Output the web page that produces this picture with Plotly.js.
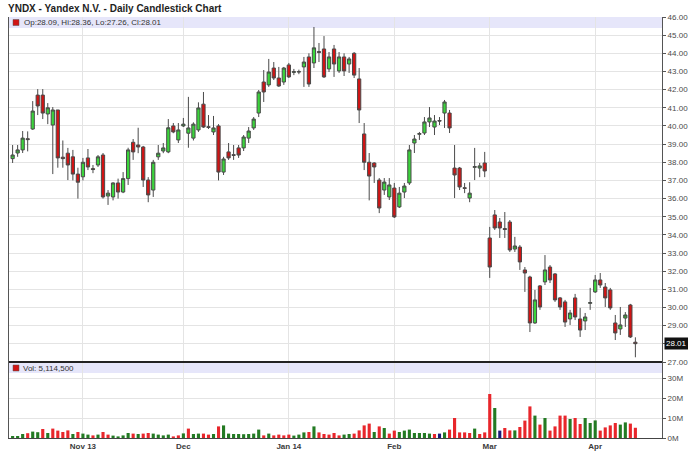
<!DOCTYPE html>
<html>
<head>
<meta charset="utf-8">
<script src="https://cdn.plot.ly/plotly-3.0.1.min.js"></script>
<style>
html,body{margin:0;padding:0;background:#fff;}
#chart{width:688px;height:455px;}
</style>
</head>
<body>
<div id="chart"></div>
<script>
// Trading days (Oct 14 2013 - Apr 11 2014)
const dates = [
'2013-10-14','2013-10-15','2013-10-16','2013-10-17','2013-10-18','2013-10-21','2013-10-22','2013-10-23','2013-10-24','2013-10-25','2013-10-28','2013-10-29','2013-10-30','2013-10-31',
'2013-11-01','2013-11-04','2013-11-05','2013-11-06','2013-11-07','2013-11-08','2013-11-11','2013-11-12','2013-11-13','2013-11-14','2013-11-15','2013-11-18','2013-11-19','2013-11-20','2013-11-21','2013-11-22','2013-11-25','2013-11-26','2013-11-27','2013-11-29',
'2013-12-02','2013-12-03','2013-12-04','2013-12-05','2013-12-06','2013-12-09','2013-12-10','2013-12-11','2013-12-12','2013-12-13','2013-12-16','2013-12-17','2013-12-18','2013-12-19','2013-12-20','2013-12-23','2013-12-24','2013-12-26','2013-12-27','2013-12-30','2013-12-31',
'2014-01-02','2014-01-03','2014-01-06','2014-01-07','2014-01-08','2014-01-09','2014-01-10','2014-01-13','2014-01-14','2014-01-15','2014-01-16','2014-01-17','2014-01-21','2014-01-22','2014-01-23','2014-01-24','2014-01-27','2014-01-28','2014-01-29','2014-01-30','2014-01-31',
'2014-02-03','2014-02-04','2014-02-05','2014-02-06','2014-02-07','2014-02-10','2014-02-11','2014-02-12','2014-02-13','2014-02-14','2014-02-18','2014-02-19','2014-02-20','2014-02-21','2014-02-24','2014-02-25','2014-02-26','2014-02-27','2014-02-28',
'2014-03-03','2014-03-04','2014-03-05','2014-03-06','2014-03-07','2014-03-10','2014-03-11','2014-03-12','2014-03-13','2014-03-14','2014-03-17','2014-03-18','2014-03-19','2014-03-20','2014-03-21','2014-03-24','2014-03-25','2014-03-26','2014-03-27','2014-03-28','2014-03-31',
'2014-04-01','2014-04-02','2014-04-03','2014-04-04','2014-04-07','2014-04-08','2014-04-09','2014-04-10','2014-04-11'
];

const open = [
38.2, 38.51, 38.68, 39.3, 39.83, 41.7, 41.7, 40.66, 40.05, 40.88,
38.28, 38.5, 38.3, 37.35, 37.2, 38.24, 37.65, 37.85, 38.4, 36.14,
36.09, 36.86, 36.36, 37.1, 39.1, 38.95, 38.84, 37.02, 36.47, 38.3,
38.62, 38.57, 40.0, 39.23, 40.0, 39.6, 39.33, 39.78, 41.2, 39.96,
39.67, 40.0, 37.46, 38.57, 38.42, 38.79, 38.79, 39.33, 39.89, 40.71,
42.42, 42.26, 43.19, 42.64, 42.42, 43.36, 42.95, 42.97, 43.25, 43.8,
43.47, 44.1, 44.24, 43.14, 44.24, 43.03, 43.8, 43.41, 44.0, 42.59,
39.56, 38.0, 37.96, 37.02, 36.47, 36.09, 36.58, 35.54, 36.36, 36.86,
39.06, 39.54, 39.61, 40.22, 39.94, 40.3, 40.71, 40.71, 37.68, 37.68,
36.6, 36.03, 37.72, 37.68, 37.96, 33.83, 35.1, 34.71, 34.35, 34.71,
33.22, 33.33, 32.07, 31.68, 29.15, 31.19, 31.41, 32.23, 31.85, 30.53,
30.31, 29.37, 30.53, 29.37, 29.26, 30.23, 30.86, 31.52, 31.13, 30.97,
29.15, 28.82, 29.42, 30.14, 28.09
];
const high = [
38.95, 38.95, 39.72, 39.7, 41.37, 42.03, 42.03, 41.26, 41.04, 40.88,
39.2, 38.79, 38.68, 37.7, 38.24, 38.73, 37.85, 38.4, 38.51, 36.47,
36.9, 37.1, 37.46, 38.8, 39.28, 39.9, 38.9, 37.18, 38.13, 38.95,
39.06, 40.38, 40.16, 40.16, 40.44, 41.6, 40.2, 41.3, 41.87, 40.6,
40.55, 40.1, 38.3, 39.06, 38.95, 38.95, 39.5, 39.94, 40.49, 41.98,
43.08, 43.69, 43.52, 43.25, 43.25, 43.47, 43.14, 43.1, 43.8, 44.0,
45.45, 44.57, 44.95, 44.07, 44.46, 44.07, 44.0, 43.8, 44.07, 43.19,
40.16, 38.51, 38.0, 37.13, 37.13, 37.13, 36.86, 36.64, 36.86, 38.95,
39.5, 39.67, 40.49, 41.04, 40.6, 40.49, 41.43, 40.88, 38.95, 37.74,
36.86, 36.9, 38.79, 37.96, 38.57, 34.44, 35.37, 34.93, 35.26, 34.82,
33.89, 33.44, 32.23, 31.75, 30.97, 31.24, 32.89, 32.34, 31.9, 30.58,
30.42, 29.87, 30.75, 29.98, 29.7, 31.08, 31.79, 31.9, 31.35, 31.08,
29.59, 30.03, 29.75, 30.2, 28.36
];
const low = [
37.96, 38.3, 38.51, 38.6, 39.78, 40.6, 40.38, 40.1, 37.35, 37.7,
37.7, 37.02, 37.0, 36.0, 37.0, 37.57, 37.4, 37.74, 36.0, 35.65,
35.9, 36.0, 36.3, 36.75, 38.13, 38.5, 36.64, 35.8, 36.09, 38.13,
38.5, 38.5, 39.6, 39.06, 39.94, 38.8, 39.2, 39.67, 39.89, 39.83,
39.5, 37.0, 37.3, 38.13, 38.13, 38.24, 38.62, 39.06, 39.78, 40.49,
41.32, 42.15, 42.53, 42.15, 42.26, 42.64, 42.8, 42.85, 42.15, 42.15,
43.19, 43.52, 42.64, 42.97, 42.7, 42.92, 42.75, 42.92, 42.64, 40.16,
37.57, 35.9, 36.86, 35.2, 36.2, 35.92, 34.93, 35.48, 36.03, 36.75,
38.51, 39.23, 39.5, 39.94, 39.5, 40.05, 39.89, 39.61, 36.03, 36.47,
36.3, 35.8, 37.02, 37.18, 37.18, 31.63, 34.27, 33.83, 33.83, 33.06,
33.06, 32.07, 30.86, 28.65, 29.1, 29.87, 31.24, 31.35, 30.31, 29.87,
28.93, 29.04, 29.31, 28.38, 28.76, 29.87, 30.8, 31.08, 30.03, 29.87,
28.21, 28.49, 28.93, 28.32, 27.26
];
const close = [
38.4, 38.68, 39.33, 39.25, 40.82, 41.1, 40.71, 41.0, 40.88, 38.24,
38.2, 37.85, 37.35, 36.9, 38.0, 37.74, 37.6, 38.3, 36.09, 36.3,
36.86, 36.36, 37.1, 38.68, 38.57, 38.84, 37.02, 36.2, 38.0, 38.5,
38.79, 39.9, 39.67, 39.78, 40.1, 39.89, 40.1, 40.99, 39.94, 39.92,
39.89, 37.46, 38.18, 38.24, 38.38, 38.4, 39.39, 39.72, 40.38, 41.87,
41.87, 42.97, 42.64, 42.2, 43.19, 42.7, 42.99, 42.99, 43.52, 42.31,
44.3, 44.05, 42.7, 43.8, 43.41, 43.8, 43.03, 43.69, 42.8, 40.88,
38.0, 37.24, 37.74, 35.48, 36.91, 36.75, 34.99, 36.3, 36.69, 38.68,
39.28, 39.58, 40.22, 40.44, 40.27, 40.27, 41.32, 39.89, 37.3, 36.64,
36.56, 36.3, 37.76, 37.8, 37.52, 32.23, 34.38, 34.38, 34.3, 33.17,
33.39, 32.51, 31.9, 29.15, 30.42, 30.03, 32.07, 31.52, 30.42, 30.03,
29.2, 29.7, 29.48, 28.76, 29.48, 30.27, 31.52, 31.24, 30.53, 29.98,
28.6, 29.04, 29.59, 28.38, 28.01
];
// Volume in millions of shares
const volume = [
1.0, 1.0, 2.0, 2.4, 3.2, 2.9, 4.5, 2.5, 4.7, 3.7,
3.0, 3.8, 2.0, 3.0, 2.2, 1.7, 1.3, 1.7, 3.0, 1.7,
1.2, 0.8, 1.3, 2.5, 2.2, 2.0, 2.2, 2.5, 2.2, 1.7,
1.3, 1.7, 0.8, 1.3, 2.3, 4.7, 2.0, 2.2, 2.2, 1.7,
2.0, 5.8, 6.3, 2.2, 2.0, 2.0, 1.9, 2.0, 2.2, 4.2,
1.3, 2.2, 1.3, 1.7, 1.3, 1.7, 1.2, 1.7, 2.8, 3.0,
5.8, 2.8, 2.0, 1.7, 2.5, 1.3, 1.7, 2.0, 2.2, 3.8,
6.3, 7.2, 3.0, 5.8, 5.0, 2.2, 3.7, 3.0, 3.7, 4.2,
2.5, 2.5, 2.5, 2.2, 2.0, 2.2, 2.8, 4.2, 10.0, 2.8,
2.8, 2.5, 4.7, 2.0, 2.8, 22.0, 15.0, 3.7, 5.0, 3.8,
3.8, 5.5, 8.7, 15.8, 11.2, 6.7, 10.0, 3.7, 5.8, 11.2,
11.2, 9.5, 10.0, 7.0, 10.0, 7.5, 8.8, 3.7, 5.3, 6.3,
7.5, 6.7, 7.8, 7.2, 5.1145
];
// Volume bar direction vs previous close: u = up, d = down, n = unchanged
const volDir = [
'u','u','u','d','u','u','d','u','d','d',
'd','d','u','d','u','u','d','u','d','d',
'u','u','u','u','d','u','d','d','u','u',
'u','u','d','d','u','d','u','u','d','d',
'u','d','u','u','u','u','u','u','u','u',
'd','u','d','d','d','d','u','u','u','d',
'u','d','d','d','d','d','u','u','d','d',
'd','d','u','d','u','d','d','u','u','u',
'u','u','u','u','d','n','u','d','d','d',
'd','d','u','d','d','d','u','n','d','d',
'u','d','d','d','u','d','u','d','d','d',
'd','u','d','d','u','u','u','d','d','d',
'd','u','u','d','d'
];
const monthTickDates = ['2013-11-01','2013-12-02','2014-01-02','2014-02-03','2014-03-03','2014-04-01'];
const monthTickText = ['Nov 13','Dec','Jan 14','Feb','Mar','Apr'];
const priceTicks = [27,28,29,30,31,32,33,34,35,36,37,38,39,40,41,42,43,44,45,46];
const priceTickText = ['27.00','','29.00','30.00','31.00','32.00','33.00','34.00','35.00','36.00','37.00','38.00','39.00','40.00','41.00','42.00','43.00','44.00','45.00','46.00'];
const volTicks = [0,10,20,30];
const volTickText = ['0M','10M','20M','30M'];
const titleText = 'YNDX - Yandex N.V. - Daily Candlestick Chart';
const legendText = 'Op:28.09, Hi:28.36, Lo:27.26, Cl:28.01';
const volLegendText = 'Vol: 5,114,500';
const lastClose = 28.01;

const FONT = 'Liberation Sans, Arial, sans-serif';
const volColorMap = {u:'#237a23', d:'#e8262b', n:'#1a1a7a'};

// Geometry (pixels): plot from y=17 to y=438, split at y=362
const W = 688, H = 455;
const mL = 9, mR = 26, mT = 17, mB = 17;
const plotH = H - mT - mB;              // 421
const split = (H - mB - 362) / plotH;   // volume domain top
const pyPaper = py => (H - mB - py) / plotH;
const pxPaper = px => (px - mL) / (W - mL - mR);

const candle = {
  type: 'candlestick',
  x: dates, open: open, high: high, low: low, close: close,
  xaxis: 'x', yaxis: 'y',
  increasing: {line: {color: '#4a4a4a', width: 1}, fillcolor: '#3bd43b'},
  decreasing: {line: {color: '#4a4a4a', width: 1}, fillcolor: '#d11414'},
  whiskerwidth: 0,
  hoverinfo: 'skip'
};
const vol = {
  type: 'bar',
  x: dates, y: volume,
  xaxis: 'x2', yaxis: 'y2',
  marker: {color: volDir.map(d => volColorMap[d]), line: {width: 0}},
  width: 0.62,
  hoverinfo: 'skip'
};

const xRange = [-0.72, 129.3];
const gridC = '#e4e4e4';

const layout = {
  width: W, height: H,
  margin: {l: mL, r: mR, t: mT, b: mB, pad: 0},
  paper_bgcolor: '#ffffff', plot_bgcolor: '#ffffff',
  showlegend: false,
  boxgap: 0.08,
  title: {text: titleText, xref: 'container', yref: 'container', x: 8/W, xanchor: 'left', y: 1 - 8/H, yanchor: 'middle',
          font: {family: FONT, size: 10, weight: 'bold', color: '#1e1e1e'}},
  xaxis: {type: 'category', domain: [0, 1], anchor: 'y', range: xRange,
          tickvals: monthTickDates, ticktext: monthTickText, showticklabels: false,
          showgrid: true, gridcolor: gridC, gridwidth: 1, showline: false, zeroline: false, ticks: '',
          rangeslider: {visible: false}, fixedrange: true},
  yaxis: {domain: [split, 1], anchor: 'x', side: 'right', range: [27, 46],
          tickvals: priceTicks, ticktext: priceTickText, ticks: 'outside', ticklen: 3, tickcolor: '#555',
          showline: true, mirror: true, linecolor: '#555', linewidth: 1,
          showgrid: true, gridcolor: gridC, zeroline: false,
          tickfont: {family: FONT, size: 8, color: '#4a4a4a'}},
  xaxis2: {type: 'category', domain: [0, 1], anchor: 'y2', range: xRange,
           tickvals: monthTickDates, ticktext: monthTickText,
           showgrid: true, gridcolor: gridC, showline: true, linecolor: '#444', linewidth: 1,
           ticks: '', zeroline: false,
           tickfont: {family: FONT, size: 8, weight: 'bold', color: '#3a3a3a'}},
  yaxis2: {domain: [0, split], anchor: 'x2', side: 'right', range: [0, 38],
           tickvals: volTicks, ticktext: volTickText, ticks: 'outside', ticklen: 3, tickcolor: '#555',
           showline: true, mirror: true, linecolor: '#555', linewidth: 1,
           showgrid: true, gridcolor: gridC, zeroline: false,
           tickfont: {family: FONT, size: 8, color: '#4a4a4a'}},
  shapes: [
    {type: 'rect', xref: 'paper', yref: 'paper', x0: 0, x1: 1, y0: pyPaper(28), y1: 1,
     fillcolor: '#e6e6fa', line: {width: 0}, layer: 'below'},
    {type: 'rect', xref: 'paper', yref: 'paper', x0: 0, x1: 1, y0: pyPaper(373), y1: pyPaper(363),
     fillcolor: '#e6e6fa', line: {width: 0}, layer: 'below'},
    {type: 'line', xref: 'paper', yref: 'paper', x0: 0, x1: 1, y0: split, y1: split,
     line: {color: '#222', width: 2}},
    {type: 'rect', xref: 'paper', yref: 'paper', x0: pxPaper(13), x1: pxPaper(19), y0: pyPaper(25.5), y1: pyPaper(19.5),
     fillcolor: '#d11414', line: {color: '#555', width: 0.5}},
    {type: 'rect', xref: 'paper', yref: 'paper', x0: pxPaper(13), x1: pxPaper(19), y0: pyPaper(371), y1: pyPaper(365),
     fillcolor: '#d11414', line: {color: '#555', width: 0.5}}
  ],
  annotations: [
    {xref: 'paper', yref: 'paper', x: pxPaper(22), y: pyPaper(22.5), xanchor: 'left', yanchor: 'middle',
     text: legendText, showarrow: false, font: {family: FONT, size: 8, color: '#333'}},
    {xref: 'paper', yref: 'paper', x: pxPaper(21), y: pyPaper(368), xanchor: 'left', yanchor: 'middle',
     text: volLegendText, showarrow: false, font: {family: FONT, size: 8, color: '#333'}},
    {xref: 'paper', yref: 'y', x: 1, y: lastClose, xanchor: 'left', yanchor: 'middle', xshift: 2,
     text: lastClose.toFixed(2), showarrow: false, bgcolor: '#111', borderpad: 1,
     font: {family: FONT, size: 8, color: '#fff'}}
  ]
};

Plotly.newPlot('chart', [candle, vol], layout, {displayModeBar: false, staticPlot: true});
</script>
</body>
</html>
